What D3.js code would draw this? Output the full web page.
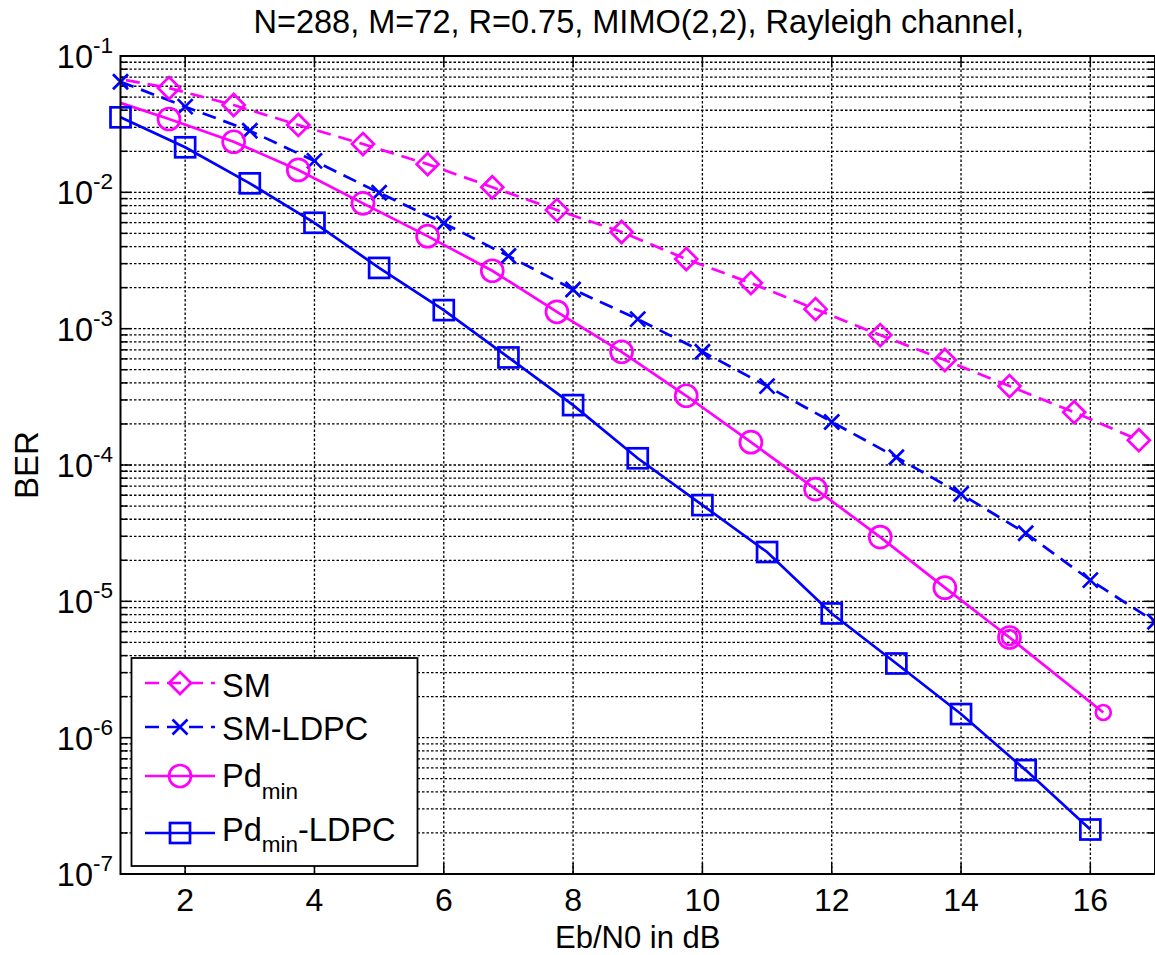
<!DOCTYPE html>
<html><head><meta charset="utf-8">
<script src="https://cdn.jsdelivr.net/npm/d3@7"></script>
<style>
body{margin:0;background:#fff}
text{font-family:"Liberation Sans",Arial,Helvetica,sans-serif;fill:#000}
</style>
</head><body>
<svg id="chart" width="1155" height="955"></svg>
<script>
// ---------- data ----------
const titleText = "N=288, M=72, R=0.75, MIMO(2,2), Rayleigh channel,";
const xLabelText = "Eb/N0 in dB";
const yLabelText = "BER";
const xTickValues = [2, 4, 6, 8, 10, 12, 14, 16];
const yTickExponents = [-1, -2, -3, -4, -5, -6, -7];

const smX = [0.75, 1.75, 2.75, 3.75, 4.75, 5.75, 6.75, 7.75, 8.75, 9.75, 10.75, 11.75, 12.75, 13.75, 14.75, 15.75, 16.75];
const smY = [0.0713, 0.0582, 0.0437, 0.0312, 0.0226, 0.0161, 0.0109, 0.00741, 0.00512, 0.00324, 0.00216, 0.00139, 0.000897, 0.000589, 0.000379, 0.000244, 0.000152];

const smLdpcX = [1, 2, 3, 4, 5, 6, 7, 8, 9, 10, 11, 12, 13, 14, 15, 16, 17];
const smLdpcY = [0.0648, 0.0425, 0.0283, 0.0170, 0.00993, 0.00593, 0.00341, 0.00194, 0.001175, 0.000677, 0.000379, 0.000207, 0.000114, 6.12e-5, 3.16e-5, 1.43e-5, 7.08e-6];

const pdX = [0.75, 1.75, 2.75, 3.75, 4.75, 5.75, 6.75, 7.75, 8.75, 9.75, 10.75, 11.75, 12.75, 13.75, 14.75];
const pdY = [0.0496, 0.0345, 0.0235, 0.0146, 0.00830, 0.00477, 0.00266, 0.00133, 0.000677, 0.000322, 0.000147, 6.66e-5, 2.96e-5, 1.26e-5, 5.43e-6];

const pdTailX = [14.75, 16.2];
const pdTailY = [5.43e-6, 1.53e-6];

const pdLdpcX = [1, 2, 3, 4, 5, 6, 7, 8, 9, 10, 11, 12, 13, 14, 15, 16];
const pdLdpcY = [0.0355, 0.0214, 0.01164, 0.00598, 0.00279, 0.001368, 0.000615, 0.000275, 0.000112, 5.08e-5, 2.30e-5, 8.15e-6, 3.50e-6, 1.49e-6, 5.78e-7, 2.12e-7];

// ---------- layout ----------
const W = 1155, H = 955;
const L = 120.5, R = 1155, T = 56, B = 874;
const MAG = "#ff00ff", BLU = "#0000ff";
const FS = 32.5, FSS = 22.5;

const svg = d3.select("#chart");
const x = d3.scaleLinear().domain([1, 17]).range([L, R]);
const y = d3.scaleLog().domain([1e-7, 1e-1]).range([B, T]);

const zip = (xs, ys) => xs.map((v, i) => ({x: v, y: ys[i]}));
const series = [
  {name: "SM", data: zip(smX, smY), color: MAG, dash: "14,8", marker: "diamond", size: 11},
  {name: "SM-LDPC", data: zip(smLdpcX, smLdpcY), color: BLU, dash: "14,8", marker: "x", size: 7.5},
  {name: "Pdmin", data: zip(pdX, pdY), color: MAG, dash: null, marker: "circle", size: 11},
  {name: "PdminTail", data: zip(pdTailX, pdTailY), color: MAG, dash: null, marker: "circle", size: 7.5},
  {name: "Pdmin-LDPC", data: zip(pdLdpcX, pdLdpcY), color: BLU, dash: null, marker: "square", size: 10}
];

// clip
svg.append("defs").append("clipPath").attr("id", "clip")
  .append("rect").attr("x", L).attr("y", T).attr("width", R - L).attr("height", B - T);

// grid
const grid = svg.append("g").attr("stroke", "#000").attr("stroke-width", 1.3).attr("stroke-dasharray", "2.5,2");
grid.selectAll("line.v").data(xTickValues).join("line")
  .attr("x1", d => x(d)).attr("x2", d => x(d)).attr("y1", T).attr("y2", B);
const yMinor = [];
for (let e = -7; e < -1; e++) for (let m = 1; m <= 9; m++) yMinor.push(m * Math.pow(10, e));
yMinor.push(1e-1);
grid.selectAll("line.h").data(yMinor).join("line")
  .attr("x1", L).attr("x2", R).attr("y1", d => y(d)).attr("y2", d => y(d));

// ticks
const ticks = svg.append("g").attr("stroke", "#000").attr("stroke-width", 1.5);
xTickValues.forEach(v => {
  ticks.append("line").attr("x1", x(v)).attr("x2", x(v)).attr("y1", B).attr("y2", B - 11);
  ticks.append("line").attr("x1", x(v)).attr("x2", x(v)).attr("y1", T).attr("y2", T + 11);
});
yMinor.forEach(v => {
  const major = Math.abs(Math.log10(v) - Math.round(Math.log10(v))) < 1e-9;
  const len = major ? 11 : 7;
  ticks.append("line").attr("x1", L).attr("x2", L + len).attr("y1", y(v)).attr("y2", y(v));
  ticks.append("line").attr("x1", R).attr("x2", R - len).attr("y1", y(v)).attr("y2", y(v));
});

// series lines
const line = d3.line().x(d => x(d.x)).y(d => y(d.y));
const plot = svg.append("g").attr("clip-path", "url(#clip)");
series.forEach(s => {
  plot.append("path").attr("d", line(s.data)).attr("fill", "none")
    .attr("stroke", s.color).attr("stroke-width", 2.7)
    .attr("stroke-dasharray", s.dash);
});

function drawMarker(g, type, cx, cy, r, color) {
  const st = {stroke: color, "stroke-width": 2.7, fill: "none"};
  let el;
  if (type === "circle") el = g.append("circle").attr("cx", cx).attr("cy", cy).attr("r", r);
  else if (type === "square") el = g.append("rect").attr("x", cx - r).attr("y", cy - r).attr("width", 2 * r).attr("height", 2 * r);
  else if (type === "diamond") el = g.append("path").attr("d", `M${cx},${cy - r}L${cx + r},${cy}L${cx},${cy + r}L${cx - r},${cy}Z`);
  else el = g.append("path").attr("d", `M${cx - r},${cy - r}L${cx + r},${cy + r}M${cx - r},${cy + r}L${cx + r},${cy - r}`);
  Object.entries(st).forEach(([k, v]) => el.attr(k, v));
}
const marks = svg.append("g");
series.forEach(s => {
  s.data.filter(d => d.x >= 1 && d.x <= 17).forEach(d => drawMarker(marks, s.marker, x(d.x), y(d.y), s.size, s.color));
});

// axes box
svg.append("rect").attr("x", L).attr("y", T).attr("width", R - L).attr("height", B - T)
  .attr("fill", "none").attr("stroke", "#000").attr("stroke-width", 2);

// x tick labels
svg.append("g").selectAll("text").data(xTickValues).join("text")
  .attr("x", d => x(d)).attr("y", 911).attr("text-anchor", "middle")
  .attr("font-size", 32).text(d => d);

// y tick labels
yTickExponents.forEach(e => {
  const t = svg.append("text").attr("x", 113).attr("y", y(Math.pow(10, e)) + 12)
    .attr("text-anchor", "end").attr("font-size", FS);
  t.append("tspan").text("10");
  t.append("tspan").attr("dy", -15).attr("font-size", FSS).text(String(e));
});

// title and axis labels
svg.append("text").attr("x", (L + R) / 2 + 1).attr("y", 33).attr("text-anchor", "middle")
  .attr("font-size", FS).text(titleText);
svg.append("text").attr("x", (L + R) / 2).attr("y", 948).attr("text-anchor", "middle")
  .attr("font-size", 31).text(xLabelText);
svg.append("text").attr("transform", `translate(38,${(T + B) / 2}) rotate(-90)`)
  .attr("text-anchor", "middle").attr("font-size", 33).text(yLabelText);

// legend
const lg = svg.append("g");
lg.append("rect").attr("x", 131.5).attr("y", 658).attr("width", 286).attr("height", 208)
  .attr("fill", "#fff").attr("stroke", "#000").attr("stroke-width", 1.8);
const legendRows = [
  {s: series[0], ly: 683, base: 14, label: ["SM"]},
  {s: series[1], ly: 727, base: 13, label: ["SM-LDPC"]},
  {s: series[2], ly: 776, base: 11, label: ["Pd", "min", ""]},
  {s: series[4], ly: 833, base: 7.5, label: ["Pd", "min", "-LDPC"]}
];
legendRows.forEach(r => {
  lg.append("line").attr("x1", 145).attr("x2", 215).attr("y1", r.ly).attr("y2", r.ly)
    .attr("stroke", r.s.color).attr("stroke-width", 2.7).attr("stroke-dasharray", r.s.dash);
  drawMarker(lg, r.s.marker, 180, r.ly, r.s.size, r.s.color);
  const t = lg.append("text").attr("x", 222).attr("y", r.ly + r.base).attr("font-size", FS);
  t.append("tspan").text(r.label[0]);
  if (r.label.length > 1) {
    t.append("tspan").attr("dy", 11.5).attr("font-size", FSS).text(r.label[1]);
    if (r.label[2]) t.append("tspan").attr("dy", -11.5).attr("font-size", FS).text(r.label[2]);
  }
});
</script>
</body></html>
